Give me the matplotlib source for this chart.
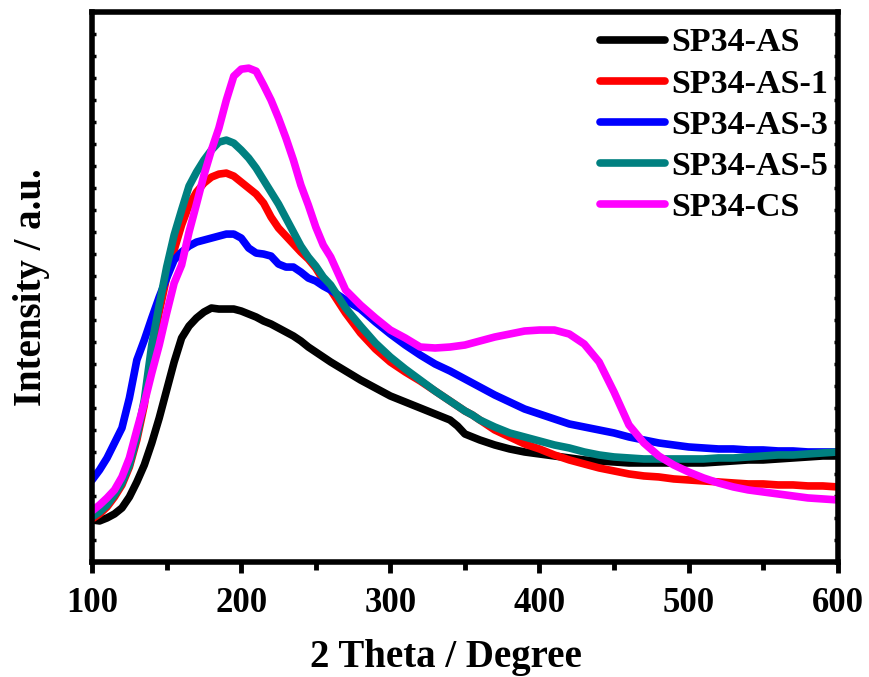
import numpy as np
import matplotlib
matplotlib.use("Agg")
import matplotlib.pyplot as plt
from matplotlib.ticker import MultipleLocator

# 2 theta values
theta = [100, 105, 110, 115, 120, 125, 130, 135, 140, 145,
         150, 155, 160, 165, 170, 175, 180, 185, 190, 195,
         200, 205, 210, 215, 220, 225, 230, 235, 240, 245,
         250, 255, 260,
         270, 280, 290, 300, 310, 320, 330, 340, 345, 350, 355,
         360, 370, 380, 390, 400, 410, 420, 430, 440, 450,
         460, 470, 480, 490, 500, 510, 520, 530, 540, 550,
         560, 570, 580, 590, 600]

sp34_as = [42, 41, 44, 48, 54, 65, 80, 97, 119, 144,
           172, 200, 224, 236, 244, 250, 254, 253, 253, 253,
           251, 248, 245, 241, 238, 234, 230, 226, 221, 215,
           210, 205, 200,
           191, 182, 174, 166, 160, 154, 148, 142, 136, 128, 125,
           122, 117, 113, 110, 108, 106, 104, 102, 101, 100,
           99, 99, 99, 99, 99, 99, 100, 101, 102, 102,
           103, 104, 105, 106, 106]
sp34_as1 = [43, 48, 55, 65, 77, 95, 122, 157, 210, 250,
            285, 312, 337, 357, 370, 379, 385, 388, 389, 386,
            380, 374, 368, 359, 345, 334, 326, 318, 310, 303,
            294, 282, 272,
            249, 229, 213, 200, 190, 181, 171, 161, 156, 151, 147,
            142, 132, 125, 118, 113, 107, 102, 98, 94, 91,
            88, 86, 85, 83, 82, 81, 80, 79, 78, 78,
            77, 77, 76, 76, 75]
sp34_as3 = [82, 92, 104, 119, 134, 164, 202, 222, 244, 265,
            284, 302, 310, 316, 320, 322, 324, 326, 328, 328,
            324, 314, 309, 308, 306, 298, 295, 295, 290, 284,
            281, 276, 272,
            262, 253, 240, 228, 217, 207, 198, 191, 187, 183, 179,
            175, 167, 160, 153, 148, 143, 138, 135, 132, 129,
            125, 122, 119, 117, 115, 114, 113, 113, 112, 112,
            111, 111, 110, 110, 110]
sp34_as5 = [45, 50, 57, 67, 79, 97, 125, 162, 217, 257,
            295, 327, 352, 376, 390, 402, 412, 420, 422, 419,
            412, 404, 394, 382, 370, 358, 344, 330, 316, 305,
            296, 285, 277,
            254, 236, 219, 205, 193, 182, 171, 161, 156, 151, 147,
            142, 135, 129, 125, 121, 117, 114, 110, 107, 105,
            104, 103, 103, 103, 103, 103, 104, 104, 105, 106,
            107, 107, 108, 109, 110]
sp34_cs = [51, 57, 64, 72, 85, 104, 132, 159, 189, 217,
           249, 279, 297, 330, 358, 387, 412, 434, 462, 486,
           493, 494, 491, 477, 462, 444, 424, 402, 377, 357,
           335, 317, 305,
           272, 257, 244, 232, 224, 215, 214, 215, 216, 217, 219,
           221, 225, 228, 231, 232, 232, 228, 218, 200, 170,
           137, 119, 106, 97, 90, 84, 79, 75, 72, 70,
           68, 66, 64, 63, 62]

labels = ["SP34-AS", "SP34-AS-1", "SP34-AS-3", "SP34-AS-5", "SP34-CS"]
colors = ["black", "#ff0000", "#0000ff", "#008080", "#ff00ff"]

plt.rcParams['font.family'] = ['Liberation Serif', 'DejaVu Serif']
plt.rcParams['font.weight'] = 'bold'

fig = plt.figure(figsize=(8.69, 6.77), dpi=100)
ax = fig.add_axes([0.106, 0.170, 0.858, 0.812])

for y, lab, c in zip([sp34_as, sp34_as1, sp34_as3, sp34_as5, sp34_cs], labels, colors):
    ax.plot(theta, y, color=c, lw=5.5, label=lab,
            solid_capstyle='round', solid_joinstyle='round')

ax.set_xlim(100, 600)
ax.set_ylim(0, 550)
ax.xaxis.set_major_locator(MultipleLocator(100))
ax.xaxis.set_minor_locator(MultipleLocator(50))
ax.yaxis.set_major_locator(MultipleLocator(22))
ax.set_yticklabels([])

for s in ax.spines.values():
    s.set_linewidth(4)

ax.tick_params(axis='x', which='major', direction='out', length=8, width=3.5,
               labelsize=25, pad=10)
ax.tick_params(axis='x', which='minor', direction='out', length=5.5, width=3.5)
ax.tick_params(axis='y', which='major', direction='in', length=3, width=2.5,
               right=True, left=True)
ax.tick_params(axis='x', which='both', top=False)
for t in ax.get_xticklabels():
    t.set_fontweight('bold')

ax.set_xlabel("2 Theta / Degree", fontsize=28, fontweight='bold')
ax.xaxis.set_label_coords(0.4745, -0.14)
ax.set_ylabel("Intensity / a.u.", fontsize=28, fontweight='bold', labelpad=27)

ax.legend(loc='upper right', bbox_to_anchor=(1.008, 1.0), frameon=False,
          handlelength=1.9, handletextpad=0.2, labelspacing=0.3,
          borderaxespad=0.0, borderpad=0.45,
          prop={'weight': 'bold', 'size': 24.5})

fig.savefig("out.png", dpi=100)
